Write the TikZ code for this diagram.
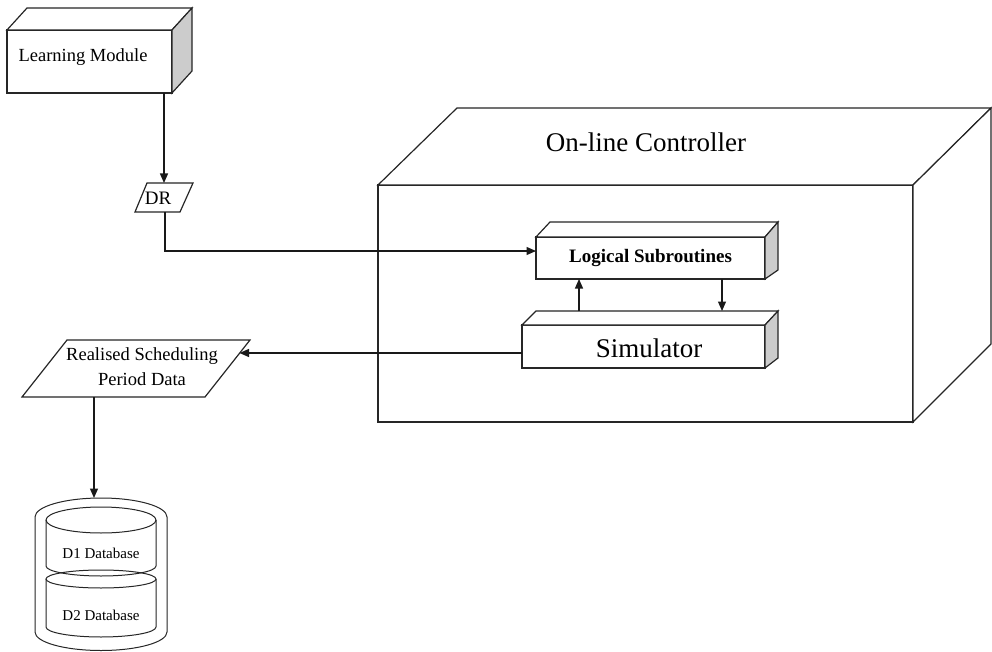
\documentclass[tikz,border=0pt]{standalone}
\usepackage{fontspec}
\setmainfont{Liberation Serif}
\usetikzlibrary{arrows.meta}

\begin{document}
\begin{tikzpicture}[x=1pt,y=-1pt,
  face/.style={draw=black!85,line width=1.2pt,fill=white},
  sideface/.style={face,fill=black!20},
  frontbox/.style={face,rectangle,inner sep=0pt,outer sep=0pt},
  lbl/.style={inner sep=0pt,align=center},
  link/.style={draw=black!90,line width=1.2pt,-{Triangle[length=9.5pt,width=8pt]}},
  dbline/.style={draw=black!85,line width=1pt}]
\useasboundingbox (0,0) rectangle (992,652);

% On-line controller cuboid
\node[frontbox,minimum width=535pt,minimum height=237pt] (oc) at (645.5,303.5) {};
\draw[face] (oc.north west) -- (457,108) -- (991,108) -- (oc.north east) -- cycle;
\draw[face] (oc.north east) -- (991,108) -- (991,344) -- (oc.south east) -- cycle;
\node[lbl,font=\fontsize{27}{30}\selectfont] (oc-title) at (646,142) {On-line Controller};

% Logical subroutines
\node[frontbox,minimum width=229pt,minimum height=42pt,
      font=\bfseries\fontsize{19}{22}\selectfont] (ls) at (650.5,258) {Logical Subroutines};
\draw[face] (ls.north west) -- (550,222) -- (778,222) -- (ls.north east) -- cycle;
\draw[sideface] (ls.north east) -- (778,222) -- (778,270) -- (ls.south east) -- cycle;

% Simulator
\node[frontbox,minimum width=243pt,minimum height=43pt] (sim) at (643.5,346.5) {};
\draw[face] (sim.north west) -- (536,311) -- (778,311) -- (sim.north east) -- cycle;
\draw[sideface] (sim.north east) -- (778,311) -- (778,358) -- (sim.south east) -- cycle;
\node[lbl,font=\fontsize{27}{30}\selectfont] (sim-text) at (649,348) {Simulator};

% Learning module
\node[frontbox,minimum width=165pt,minimum height=63pt] (lm) at (89.5,61.5) {};
\draw[face] (lm.north west) -- (27,8) -- (192,8) -- (lm.north east) -- cycle;
\draw[sideface] (lm.north east) -- (192,8) -- (192,71) -- (lm.south east) -- cycle;
\node[lbl,font=\fontsize{18.5}{22}\selectfont] (lm-text) at (83,57) {Learning Module};

% DR data symbol
\draw[face] (147,183) -- (193,183) -- (180,212) -- (135,212) -- cycle;
\node[lbl,font=\fontsize{19}{22}\selectfont] (dr) at (158,198) {DR};
\coordinate (dr-in) at (164,183);
\coordinate (dr-out) at (165,212);
\coordinate (ls-in) at (536,251);

% Realised scheduling period data symbol
\draw[face] (67,340) -- (250,340) -- (205,397) -- (22,397) -- cycle;
\node[lbl,font=\fontsize{18.5}{25}\selectfont] (rs) at (142,367) {Realised Scheduling\\Period Data};
\coordinate (rs-in) at (239.5,353);
\coordinate (rs-out) at (94,397);
\coordinate (sim-out) at (522,353);

% Database cylinder
\draw[dbline,fill=white] (35,517) arc[start angle=180,end angle=0,x radius=66pt,y radius=19pt]
  -- (167,632) arc[start angle=0,end angle=-180,x radius=66pt,y radius=18.5pt] -- cycle;
\draw[dbline] (46,520) -- (46,566) arc[start angle=180,end angle=360,x radius=55pt,y radius=10pt] -- (156,520);
\draw[dbline] (101,520) ellipse[x radius=55pt,y radius=13pt];
\draw[dbline] (46,579) -- (46,627) arc[start angle=180,end angle=360,x radius=55pt,y radius=10pt] -- (156,579);
\draw[dbline] (101,579) ellipse[x radius=55pt,y radius=9pt];
\node[lbl,font=\fontsize{15}{18}\selectfont] (d1) at (101,553) {D1 Database};
\node[lbl,font=\fontsize{15}{18}\selectfont] (d2) at (101,615) {D2 Database};
\coordinate (db-top) at (94,498);

% Connectors
\coordinate (sim-up) at (579,311);
\coordinate (sim-down) at (722,311);
\draw[link] (dr-in |- lm.south) -- (dr-in);
\draw[link] (dr-out) |- (ls-in);
\draw[link] (sim-up) -- (sim-up |- ls.south);
\draw[link] (sim-down |- ls.south) -- (sim-down);
\draw[link] (sim-out) -- (rs-in);
\draw[link] (rs-out) -- (db-top);
\end{tikzpicture}
\end{document}
